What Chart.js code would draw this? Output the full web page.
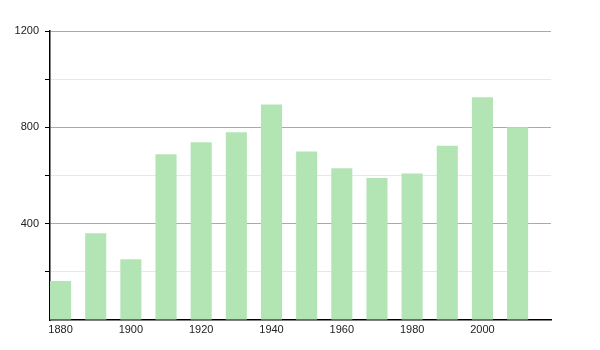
<!DOCTYPE html>
<html lang="en">
<head>
<meta charset="UTF-8">
<title>Bar chart 1880-2010</title>
<script src="https://cdn.jsdelivr.net/npm/chart.js@4.4.0/dist/chart.umd.min.js"></script>
<style>
  body { margin: 0; background: #fff; }
</style>
</head>
<body>
<canvas id="bar" width="600" height="350"></canvas>
<script>
// data
const years = [1880, 1890, 1900, 1910, 1920, 1930, 1940, 1950, 1960, 1970, 1980, 1990, 2000, 2010];
const values = [162, 360, 252, 688, 738, 780, 895, 700, 630, 590, 608, 724, 925, 800];
const xTickYears = [1880, 1900, 1920, 1940, 1960, 1980, 2000];
const yLabelled = [400, 800, 1200];

const ctx = document.getElementById('bar').getContext('2d');
const myChart = new Chart(ctx, {
    type: 'bar',
    data: {
        datasets: [{
            data: years.map((y, i) => ({ x: y, y: values[i] })),
            backgroundColor: '#b3e5b4',
            borderWidth: 0,
            categoryPercentage: 1,
            barPercentage: 0.6,
        }]
    },
    options: {
        responsive: false,
        animation: false,
        layout: { padding: { left: 0, top: 31, right: 49, bottom: 0 } },
        plugins: { legend: { display: false }, tooltip: { enabled: false } },
        scales: {
            x: {
                type: 'linear',
                offset: false,
                min: 1877,
                max: 2019.5,
                afterBuildTicks: axis => { axis.ticks = xTickYears.map(v => ({ value: v })); },
                afterFit: axis => { axis.height = 30; },
                grid: { display: false, drawTicks: false },
                border: { color: '#000', width: 1.5 },
                ticks: {
                    padding: 3,
                    color: '#222',
                    font: { family: 'Liberation Sans, Arial, sans-serif', size: 11 },
                    callback: v => String(v),
                    maxRotation: 0,
                },
            },
            y: {
                min: 0,
                max: 1200,
                afterFit: axis => { axis.width = 50; },
                grid: {
                    color: c => c.tick.value === 0 ? 'rgba(0,0,0,0)' :
                        (c.tick.value % 400 === 0 ? '#aaaaaa' : '#e8e8e8'),
                    tickColor: c => c.tick.value === 0 ? 'rgba(0,0,0,0)' : '#000',
                    tickLength: 5,
                    lineWidth: 1,
                },
                border: { color: '#000', width: 1.5 },
                ticks: {
                    stepSize: 200,
                    padding: 6,
                    color: '#222',
                    font: { family: 'Liberation Sans, Arial, sans-serif', size: 11 },
                    callback: v => (yLabelled.includes(v) ? String(v) : ''),
                },
            },
        },
    },
});
</script>
</body>
</html>
